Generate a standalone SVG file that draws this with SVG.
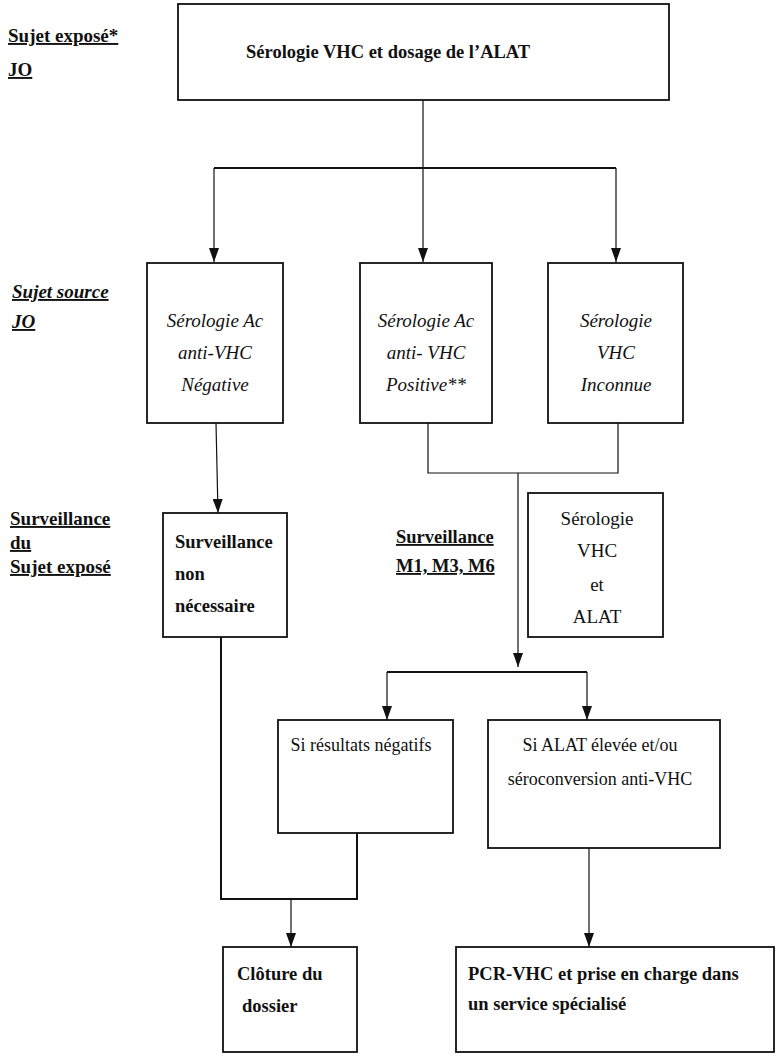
<svg xmlns="http://www.w3.org/2000/svg" width="776" height="1056" viewBox="0 0 776 1056">
<style>
text{font-family:"Liberation Serif","Times New Roman",serif;fill:#111}
.b{font-weight:bold}
.i{font-style:italic}
.u{text-decoration:underline}
.box{fill:#fff;stroke:#111;stroke-width:1.8}
.c{fill:none;stroke:#111;stroke-width:1.2}
.ct{fill:none;stroke:#111;stroke-width:2}
</style>
<defs>
<marker id="ar" viewBox="0 0 14 10" refX="14" refY="5" markerWidth="14" markerHeight="10" markerUnits="userSpaceOnUse" orient="auto">
<path d="M0,0 L14,5 L0,10 z" fill="#111"/>
</marker>
</defs>
<rect width="776" height="1056" fill="#fff"/>

<g id="labels" class="b">
<text x="8" y="42" font-size="19" class="b u">Sujet exposé*</text>
<text x="8" y="76" font-size="19" class="b u">JO</text>
<text x="12" y="298" font-size="19" class="b i u">Sujet source</text>
<text x="12" y="328" font-size="19" class="b i u">JO</text>
<text x="10" y="525" font-size="19" class="b u">Surveillance</text>
<text x="10" y="549" font-size="19" class="b u">du</text>
<text x="10" y="573" font-size="19" class="b u">Sujet exposé</text>
<text x="396" y="543" font-size="18.5" class="b u">Surveillance</text>
<text x="396" y="572" font-size="18.5" class="b u">M1, M3, M6</text>
</g>

<g id="connectors">
<path class="c" d="M423,100 V168"/>
<path class="ct" d="M214,168 H616"/>
<path class="c" d="M214,168 V262" marker-end="url(#ar)"/>
<path class="c" d="M423,168 V262" marker-end="url(#ar)"/>
<path class="c" d="M616,168 V262" marker-end="url(#ar)"/>
<path class="c" d="M216,423 L218,513" marker-end="url(#ar)"/>
<path class="c" d="M428,423 V473 H618 V423"/>
<path class="c" d="M518,473 V667" marker-end="url(#ar)"/>
<path class="ct" d="M387,672 H587"/>
<path class="c" d="M387,672 V720" marker-end="url(#ar)"/>
<path class="c" d="M587,672 V720" marker-end="url(#ar)"/>
<path class="ct" d="M221,637 V899 H357 V833"/>
<path class="c" d="M291,899 V947" marker-end="url(#ar)"/>
<path class="c" d="M589,848 V947" marker-end="url(#ar)"/>
</g>

<g id="n-top">
<rect class="box" x="178" y="4" width="491" height="96"/>
<text x="246" y="58" font-size="18.5" class="b">Sérologie VHC et dosage de l’ALAT</text>
</g>

<g id="n-neg" class="i" font-size="19" text-anchor="middle">
<rect class="box" x="147" y="263" width="136" height="160"/>
<text x="215" y="327">Sérologie Ac</text>
<text x="215" y="359">anti-VHC</text>
<text x="215" y="391">Négative</text>
</g>

<g id="n-pos" class="i" font-size="19" text-anchor="middle">
<rect class="box" x="360" y="263" width="132" height="160"/>
<text x="426" y="327">Sérologie Ac</text>
<text x="426" y="359">anti- VHC</text>
<text x="426" y="391">Positive**</text>
</g>

<g id="n-inc" class="i" font-size="19" text-anchor="middle">
<rect class="box" x="548" y="263" width="135" height="160"/>
<text x="616" y="327">Sérologie</text>
<text x="616" y="359">VHC</text>
<text x="616" y="391">Inconnue</text>
</g>

<g id="n-nonnec" class="b" font-size="18.5">
<rect class="box" x="163" y="513" width="124" height="124"/>
<text x="175" y="548" class="b">Surveillance</text>
<text x="175" y="580" class="b">non</text>
<text x="175" y="612" class="b">nécessaire</text>
</g>

<g id="n-serol" font-size="19" text-anchor="middle">
<rect class="box" x="528" y="493" width="135" height="144"/>
<text x="597" y="525">Sérologie</text>
<text x="597" y="557">VHC</text>
<text x="597" y="591">et</text>
<text x="597" y="623">ALAT</text>
</g>

<g id="n-negres" font-size="18" text-anchor="middle">
<rect class="box" x="278" y="720" width="175" height="113"/>
<text x="361" y="751">Si résultats négatifs</text>
</g>

<g id="n-alat" font-size="18" text-anchor="middle">
<rect class="box" x="488" y="720" width="232" height="128"/>
<text x="600" y="751">Si ALAT élevée et/ou</text>
<text x="600" y="785">séroconversion anti-VHC</text>
</g>

<g id="n-cloture" class="b" font-size="18.5">
<rect class="box" x="223" y="947" width="134" height="105"/>
<text x="237" y="980" class="b">Clôture du</text>
<text x="242" y="1012" class="b">dossier</text>
</g>

<g id="n-pcr" class="b" font-size="18.5">
<rect class="box" x="456" y="947" width="318" height="105"/>
<text x="468" y="980" class="b">PCR-VHC et prise en charge dans</text>
<text x="468" y="1010" class="b">un service spécialisé</text>
</g>
</svg>
